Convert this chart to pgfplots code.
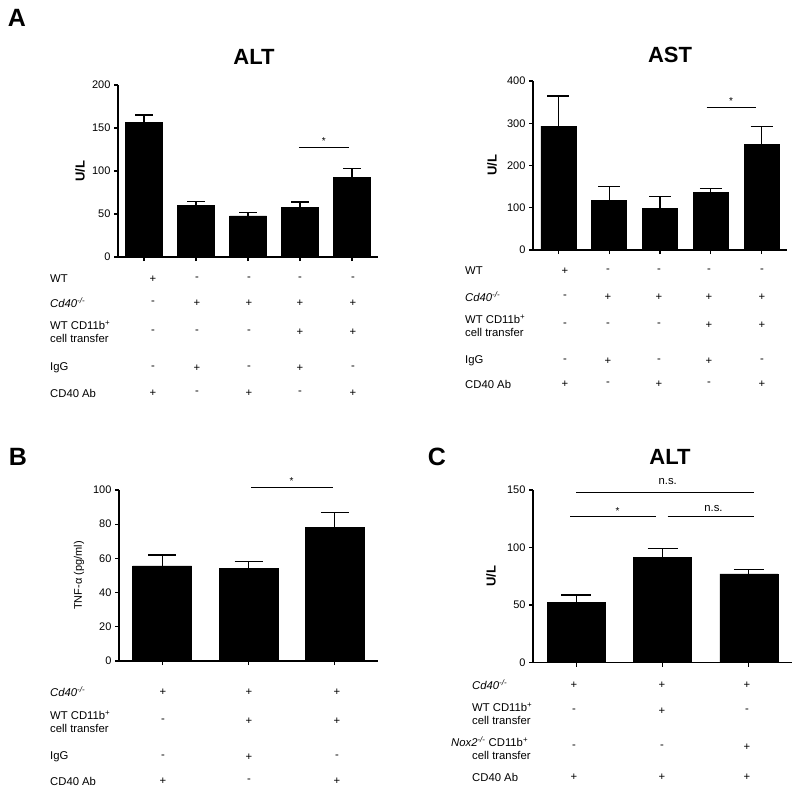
\documentclass[border=0pt]{standalone}
\usepackage{fontspec}
\setmainfont{Liberation Sans}
\usepackage{pgfplots}
\pgfplotsset{compat=1.18}
\pgfplotsset{prism/.style={
  scale only axis, clip=false,
  axis lines=left, axis line style={-, line width=1.3bp, black},
  tick align=outside, major tick length=4bp,
  every tick/.style={black, line width=1.3bp},
  tick label style={font=\fontsize{11bp}{12bp}\selectfont, black},
  /pgf/number format/assume math mode=true,
  xticklabels={},
  ymin=0,
  ylabel style={font=\fontsize{13bp}{15bp}\selectfont\bfseries, anchor=center},
}}
\pgfplotsset{prismbar/.style={ybar, bar shift=0pt, fill=black, draw=black, line width=0.5bp,
  error bars/.cd, y dir=plus, y explicit,
  error bar style={line width=1.3bp, black},
  error mark options={rotate=90, line width=1.3bp, black, mark size=#1}}}
\newcommand\sm{\fontsize{11.3bp}{12.8bp}\selectfont}
\newcommand\cdko{\textit{Cd40}\textsuperscript{\textit{-/-}}}
\begin{document}
\begin{tikzpicture}
\useasboundingbox (0,0) rectangle (800bp,-795bp);
% ---------------- A: ALT
\begin{axis}[prism, at={(118bp,-257bp)}, anchor=south west,
  width=260bp, height=172bp, xmin=-0.5, xmax=4.5, ymax=200,
  ytick={0,50,...,200}, xtick={0,...,4}, bar width=37bp,
  ylabel={U/L}, ylabel style={at={(axis description cs:-0.146,0.5)}}]
\addplot[prismbar=9bp] table[x=x, y=y, y error=e] {
x y e
0 156.6 8.5
1 59.7 5.1
2 47.7 4.3
3 57.3 6.7
4 92.2 10.5
};
\draw[line width=0.8bp] (axis cs:2.98,127) -- (axis cs:3.94,127);
\node[font=\fontsize{10bp}{11bp}\selectfont, inner sep=0pt] at (axis cs:3.46,134.5) {*};
\end{axis}
% ---------------- A: AST
\begin{axis}[prism, at={(533bp,-250bp)}, anchor=south west,
  width=254bp, height=169bp, xmin=-0.5, xmax=4.5, ymax=400,
  ytick={0,100,...,400}, xtick={0,...,4}, bar width=35bp,
  ylabel={U/L}, ylabel style={at={(axis description cs:-0.161,0.5)}}]
\addplot[prismbar=11bp] table[x=x, y=y, y error=e] {
x y e
0 293.5 71
1 118.3 31.6
2 98.6 27.6
3 136.5 9.5
4 249.2 42.7
};
\draw[line width=0.8bp] (axis cs:2.92,338) -- (axis cs:3.88,338);
\node[font=\fontsize{10bp}{11bp}\selectfont, inner sep=0pt] at (axis cs:3.40,353) {*};
\end{axis}
% ---------------- B: TNF
\begin{axis}[prism, at={(119bp,-661bp)}, anchor=south west,
  width=259bp, height=171bp, xmin=-0.5, xmax=2.5, ymax=100,
  ytick={0,20,...,100}, xtick={0,...,2}, bar width=59bp,
  ylabel={TNF-α (pg/ml)},
  ylabel style={at={(axis description cs:-0.154,0.5)}, font=\fontsize{11bp}{12bp}\selectfont}]
\addplot[prismbar=14bp] table[x=x, y=y, y error=e] {
x y e
0 55.6 6.4
1 54.2 3.9
2 78.2 8.8
};
\draw[line width=0.8bp] (axis cs:1.03,101.7) -- (axis cs:1.98,101.7);
\node[font=\fontsize{10bp}{11bp}\selectfont, inner sep=0pt] at (axis cs:1.50,105) {*};
\end{axis}
% ---------------- C: ALT
\begin{axis}[prism, at={(533bp,-662.5bp)}, anchor=south west,
  width=259bp, height=172.5bp, xmin=-0.5, xmax=2.5, ymax=150,
  ytick={0,50,...,150}, xtick={0,...,2}, bar width=58bp,
  ylabel={U/L}, ylabel style={at={(axis description cs:-0.162,0.5)}}]
\addplot[prismbar=15bp] table[x=x, y=y, y error=e] {
x y e
0 52.3 6.4
1 91.7 7.3
2 77.0 3.7
};
\draw[line width=0.8bp] (axis cs:0,148) -- (axis cs:2.06,148);
\draw[line width=0.8bp] (axis cs:-0.07,127) -- (axis cs:0.93,127);
\draw[line width=0.8bp] (axis cs:1.06,127) -- (axis cs:2.06,127);
\node[font=\sm, inner sep=0pt] at (axis cs:1.06,157.5) {n.s.};
\node[font=\fontsize{10bp}{11bp}\selectfont, inner sep=0pt] at (axis cs:0.48,131.5) {*};
\node[font=\sm, inner sep=0pt] at (axis cs:1.59,133.5) {n.s.};
\end{axis}
% ---------------- annotations
\begin{scope}[x=1bp, y=-1bp]
\node[font=\fontsize{25bp}{27bp}\selectfont\bfseries] at (17,18) {A};
\node[font=\fontsize{25bp}{27bp}\selectfont\bfseries] at (18,457) {B};
\node[font=\fontsize{25bp}{27bp}\selectfont\bfseries] at (437,457) {C};
\node[font=\fontsize{22bp}{24bp}\selectfont\bfseries] at (254,57) {ALT};
\node[font=\fontsize{22bp}{24bp}\selectfont\bfseries] at (670,55) {AST};
\node[font=\fontsize{22bp}{24bp}\selectfont\bfseries] at (670,457) {ALT};
% A ALT table
\begin{scope}[every node/.style={font=\sm, inner sep=0pt}]
\node[anchor=west] at (50,279) {WT};
\node[anchor=west] at (50,303) {\cdko};
\node[anchor=west, align=left] at (50,332) {WT CD11b\textsuperscript{+}\\cell transfer};
\node[anchor=west] at (50,368) {IgG};
\node[anchor=west] at (50,393) {CD40 Ab};
\foreach \x/\a/\b/\c/\d/\e in {153/+/-/-/-/+, 197/-/+/-/+/-, 249/-/+/-/-/+, 300/-/+/+/+/-, 353/-/+/+/-/+} {
  \node at (\x,279) {\a}; \node at (\x,303) {\b}; \node at (\x,332) {\c};
  \node at (\x,368) {\d}; \node at (\x,393) {\e};
}
% A AST table
\node[anchor=west] at (465,271) {WT};
\node[anchor=west] at (465,297) {\cdko};
\node[anchor=west, align=left] at (465,326) {WT CD11b\textsuperscript{+}\\cell transfer};
\node[anchor=west] at (465,361) {IgG};
\node[anchor=west] at (465,384) {CD40 Ab};
\foreach \x/\a/\b/\c/\d/\e in {565/+/-/-/-/+, 608/-/+/-/+/-, 659/-/+/-/-/+, 709/-/+/+/+/-, 762/-/+/+/-/+} {
  \node at (\x,271) {\a}; \node at (\x,297) {\b}; \node at (\x,325) {\c};
  \node at (\x,361) {\d}; \node at (\x,384) {\e};
}
% B table
\node[anchor=west] at (50,692) {\cdko};
\node[anchor=west, align=left] at (50,722) {WT CD11b\textsuperscript{+}\\cell transfer};
\node[anchor=west] at (50,757) {IgG};
\node[anchor=west] at (50,781) {CD40 Ab};
\foreach \x/\a/\b/\c/\d in {163/+/-/-/+, 249/+/+/+/-, 337/+/+/-/+} {
  \node at (\x,692) {\a}; \node at (\x,721) {\b};
  \node at (\x,757) {\c}; \node at (\x,781) {\d};
}
% C table
\node[anchor=west] at (472,685) {\cdko};
\node[anchor=west] at (472,707) {WT CD11b\textsuperscript{+}};
\node[anchor=west] at (472,720) {cell transfer};
\node[anchor=west] at (451,742) {\textit{Nox2}\textsuperscript{\textit{-/-}} CD11b\textsuperscript{+}};
\node[anchor=west] at (472,755) {cell transfer};
\node[anchor=west] at (472,777) {CD40 Ab};
\foreach \x/\a/\b/\c/\d in {574/+/-/-/+, 662/+/+/-/+, 747/+/-/+/+} {
  \node at (\x,685) {\a}; \node at (\x,711) {\b};
  \node at (\x,747) {\c}; \node at (\x,777) {\d};
}
\end{scope}
\end{scope}
\end{tikzpicture}
\end{document}
